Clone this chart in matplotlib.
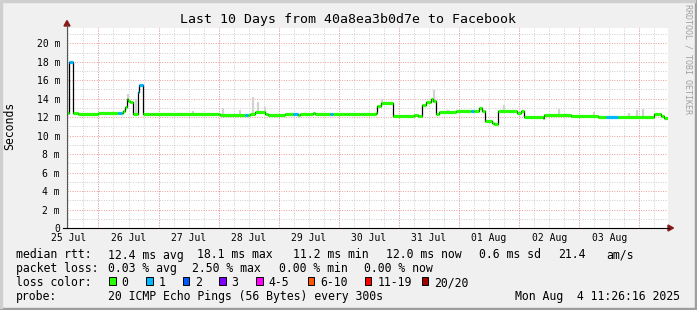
import matplotlib
matplotlib.use("Agg")
import matplotlib.pyplot as plt
import numpy as np
from matplotlib.patches import Polygon, Rectangle
from matplotlib.lines import Line2D

plt.rcParams["font.family"] = ["DejaVu Sans Mono"]

# median rtt per step: hours since start of graph (Jul 25 11:26:16), ms, lost pings
hours = [0.0, 0.9, 2.3, 4.4, 12.4, 20.4, 21.9, 22.5, 23.2, 23.9, 24.5, 25.2, 26.3,
         28.3, 28.9, 30.3, 33.2, 34.3, 60.4, 61.2, 71.2, 72.4, 73.2, 75.2, 79.2,
         80.4, 87.2, 90.4, 92.4, 93.2, 98.4, 99.2, 105.2, 106.4, 111.2, 112.4,
         117.2, 118.4, 123.2, 123.9, 125.2, 130.3, 138.4, 140.0, 141.9, 143.2,
         145.2, 146.3, 147.2, 148.5, 155.2, 161.2, 162.5, 164.4, 165.9, 166.9,
         169.9, 170.4, 172.1, 179.9, 181.2, 182.4, 189.9, 190.5, 201.2, 211.9,
         215.2, 219.9, 234.5, 237.2, 238.4]
median_ms = [12.45, 18.0, 12.5, 12.3, 12.5, 12.5, 12.5, 12.7, 13.1, 14.0, 13.8, 13.6, 12.3,
             14.7, 15.5, 12.3, 12.35, 12.3, 12.35, 12.27, 12.27, 12.27, 12.4, 12.56, 12.4,
             12.27, 12.4, 12.4, 12.27, 12.37, 12.45, 12.37, 12.37, 12.38, 12.3, 12.38,
             12.3, 12.4, 12.45, 13.2, 13.57, 12.17, 12.25, 12.17, 13.3, 13.64,
             13.97, 13.7, 12.38, 12.6, 12.67, 12.67, 12.67, 12.96, 12.67, 11.63,
             11.4, 11.23, 12.67, 12.5, 12.7, 12.05, 11.95, 12.24, 12.17, 12.0,
             12.05, 12.0, 12.35, 12.1, 11.95]
loss = [0, 1, 0, 0, 0, 1, 0, 0, 0, 0, 0, 0, 0,
        1, 1, 0, 0, 0, 0, 0, 1, 0, 0, 0, 0,
        0, 0, 1, 0, 0, 0, 0, 1, 0, 0, 0,
        0, 0, 0, 0, 0, 0, 0, 0, 0, 0,
        0, 0, 0, 0, 0, 1, 0, 0, 0, 0,
        0, 0, 0, 0, 0, 0, 0, 0, 0, 0,
        1, 0, 0, 0, 0]

# smoke (ping spread) peaks
smoke_hours = [24.4, 27.6, 50.4, 62.4, 69.2, 74.4, 76.4, 79.2, 125.9, 146.4, 152.0,
               174.4, 196.4, 210.4, 224.4, 227.6, 230.0]
smoke_top = [14.5, 14.0, 12.7, 13.0, 12.8, 14.2, 13.6, 13.1, 14.0, 14.9, 12.8,
             13.3, 12.9, 12.6, 12.45, 12.8, 12.9]

day_labels = ["25 Jul", "26 Jul", "27 Jul", "28 Jul", "29 Jul", "30 Jul",
              "31 Jul", "01 Aug", "02 Aug", "03 Aug"]
y_ticks = [0, 2, 4, 6, 8, 10, 12, 14, 16, 18, 20]

loss_names = ["0", "1", "2", "3", "4-5", "6-10", "11-19", "20/20"]
loss_colors = ["#26ff00", "#00b8ff", "#0059ff", "#7e00ff", "#ff00ff",
               "#ff5500", "#ff0000", "#a10000"]
loss_limits = [0, 1, 2, 3, 5, 10, 19, 20]

W, H = 697, 310
SPAN = 240.0
FIRST_MIDNIGHT = 12 + 33 / 60 + 44 / 3600


def px(x, y):
    return x / W, 1 - y / H


def loss_color(n):
    for lim, c in zip(loss_limits, loss_colors):
        if n <= lim:
            return c
    return loss_colors[-1]


fig = plt.figure(figsize=(W / 100, H / 100), dpi=100, facecolor="#f0f0f0")
ax = fig.add_axes([67 / W, 82 / H, 601 / W, 200 / H])
ax.set_facecolor("white")
ax.set_xlim(0, SPAN)
ax.set_ylim(0, 21.66)
for s in ax.spines.values():
    s.set_visible(False)

dots = (0, (1, 1.5))
for h in np.arange(FIRST_MIDNIGHT % 6, SPAN, 6):
    ax.axvline(h, color="#cdcdcd", lw=0.7, ls=dots, zorder=0)
for v in range(1, 22, 2):
    ax.axhline(v, color="#cdcdcd", lw=0.7, ls=dots, zorder=0)
for h in np.arange(FIRST_MIDNIGHT, SPAN, 24):
    ax.axvline(h, color="#eb9c9c", lw=0.7, ls=dots, zorder=0.5)
for v in y_ticks[1:]:
    ax.axhline(v, color="#eb9c9c", lw=0.7, ls=dots, zorder=0.5)

# smoke
idx = np.searchsorted(hours, smoke_hours, side="right") - 1
base = np.array(median_ms)[idx] - 0.1
ax.vlines(smoke_hours, base, smoke_top, color="#d2d2d2", lw=1.6, zorder=1)

# median line + loss colour marks
xs = hours + [SPAN]
ys = median_ms + [median_ms[-1]]
ax.step(xs, ys, where="post", color="black", lw=0.9, zorder=2)
ax.hlines(median_ms, hours, xs[1:], colors=[loss_color(n) for n in loss],
          lw=2.3, zorder=3)

ax.set_yticks(y_ticks, ["0"] + [f"{v} m" for v in y_ticks[1:]])
noons = FIRST_MIDNIGHT - 12 + 24 * np.arange(len(day_labels))
ax.set_xticks(noons, day_labels)
ax.tick_params(axis="y", length=0, pad=5, labelsize=7)
ax.tick_params(axis="x", length=0, pad=3.5, labelsize=7)

# axes and arrows
fig.add_artist(Line2D([px(67, 0)[0]] * 2, [px(0, 228)[1], px(0, 25)[1]],
                      color="#555555", lw=0.8))
fig.add_artist(Line2D([px(63, 0)[0], px(669, 0)[0]], [px(0, 228)[1]] * 2,
                      color="black", lw=0.8))
fig.add_artist(Polygon([px(64, 26), px(70, 26), px(67, 20.5)], closed=True,
                       color="#8b1a1a", transform=fig.transFigure))
fig.add_artist(Polygon([px(668, 225), px(668, 231), px(673.5, 228)], closed=True,
                       color="#8b1a1a", transform=fig.transFigure))

# frame
fig.add_artist(Rectangle((0, 0), 1, 2 / H, color="#9e9e9e", transform=fig.transFigure))
fig.add_artist(Rectangle((1 - 2 / W, 0), 2 / W, 1, color="#9e9e9e", transform=fig.transFigure))
fig.add_artist(Rectangle((0, 1 - 2 / H), 1 - 2 / W, 2 / H, color="#cfcfcf", transform=fig.transFigure))
fig.add_artist(Rectangle((0, 2 / H), 2 / W, 1 - 4 / H, color="#cfcfcf", transform=fig.transFigure))

fig.text(*px(348, 23.5), "Last 10 Days from 40a8ea3b0d7e to Facebook",
         ha="center", va="baseline", fontsize=9.5)
fig.text(*px(10, 126), "Seconds", rotation=90, ha="center", va="center", fontsize=8.3)
fig.text(*px(688, 4), "RRDTOOL / TOBI OETIKER", rotation=270, ha="center",
         va="top", fontsize=6, color="#a0a0a0")

fs = 8.3
rows = [
    (258.5, [(16, "median rtt:"), (107.6, "12.4 ms avg"), (197, "18.1 ms max"),
             (293.3, "11.2 ms min"), (385.8, "12.0 ms now"), (479, "0.6 ms sd"),
             (557.8, "21.4"), (606.7, "am/s")]),
    (272, [(16, "packet loss:"), (107.6, "0.03 % avg"), (192.4, "2.50 % max"),
           (279, "0.00 % min"), (364.4, "0.00 % now")]),
    (286, [(16, "loss color:")]),
    (300, [(16, "probe:"), (107.6, "20 ICMP Echo Pings (56 Bytes) every 300s")]),
]
for yb, items in rows:
    for x, s in items:
        fig.text(*px(x, yb), s, ha="left", va="baseline", fontsize=fs)
fig.text(*px(680, 300), "Mon Aug  4 11:26:16 2025", ha="right", va="baseline", fontsize=fs)

box_x = [109.3, 146, 182.7, 219.3, 256, 307.7, 365, 421.7]
for x, name, c in zip(box_x, loss_names, loss_colors):
    fig.add_artist(Rectangle(px(x, 285), 6.5 / W, 8 / H, facecolor=c,
                             edgecolor="black", lw=0.7, transform=fig.transFigure))
    fig.text(*px(x + 12.4, 286), name, ha="left", va="baseline", fontsize=fs)

fig.savefig("out.png", dpi=100, facecolor=fig.get_facecolor())
